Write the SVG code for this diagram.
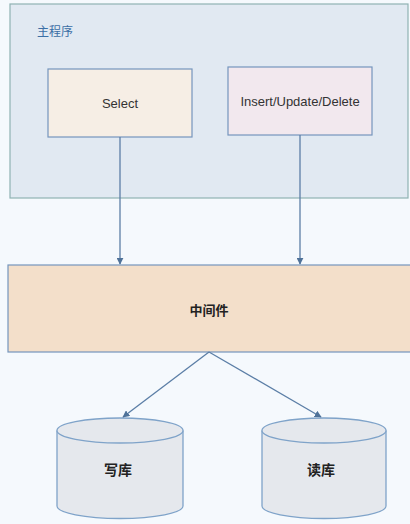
<svg xmlns="http://www.w3.org/2000/svg" width="410" height="524" viewBox="0 0 410 524">
<style>
.box{stroke:#7595bd;stroke-width:1.2}
.lbl{font-family:"Liberation Sans",Arial,sans-serif;font-size:13px;fill:#333;text-anchor:middle;dominant-baseline:central}
.cjk{font-family:"Noto Sans CJK SC","Liberation Sans",sans-serif;font-size:13px;fill:#222;text-anchor:middle;dominant-baseline:central;font-weight:bold}
.edge{stroke:#5b7ea6;stroke-width:1.3;fill:none;marker-end:url(#arr)}
.db{fill:#e5e8ed;stroke:#7fa3c9;stroke-width:1.3}
</style>
<defs>
<marker id="arr" viewBox="0 0 10 10" refX="9" refY="5" markerWidth="7" markerHeight="7" markerUnits="userSpaceOnUse" orient="auto">
<path d="M0,0 L10,5 L0,10 z" fill="#4f7299"/>
</marker>
</defs>
<rect x="0" y="0" width="410" height="524" fill="#f5f9fd"/>
<g id="main">
<rect x="10" y="4" width="398" height="194" fill="#e1e9f2" stroke="#8fb2b3" stroke-width="1.2"/>
<text x="55" y="30" class="cjk" style="font-weight:normal;font-size:12px;fill:#3b6fa6">主程序</text>
</g>
<g id="select">
<rect x="48" y="69" width="144" height="68" fill="#f6eee5" class="box"/>
<text x="120" y="103" class="lbl">Select</text>
</g>
<g id="iud">
<rect x="228" y="67" width="144" height="68" fill="#f2e8ee" class="box"/>
<text x="300" y="101" class="lbl">Insert/Update/Delete</text>
</g>
<g id="middleware">
<rect x="8" y="265" width="410" height="87" fill="#f3dfca" class="box"/>
<text x="209" y="309" class="cjk">中间件</text>
</g>
<g id="writedb">
<path d="M57,430.5 L57,506 A63,12.5 0 0 0 183,506 L183,430.5" class="db"/>
<ellipse cx="120" cy="430.5" rx="63" ry="12.5" class="db"/>
<text x="118" y="469" class="cjk" style="font-size:14px">写库</text>
</g>
<g id="readdb">
<path d="M262,430.5 L262,506 A62,12.5 0 0 0 386,506 L386,430.5" class="db"/>
<ellipse cx="324" cy="430.5" rx="62" ry="12.5" class="db"/>
<text x="321" y="469" class="cjk" style="font-size:14px">读库</text>
</g>
<g id="connectors">
<line x1="120" y1="137" x2="120" y2="264" class="edge"/>
<line x1="300" y1="135" x2="300" y2="264" class="edge"/>
<line x1="209" y1="352" x2="123" y2="417" class="edge"/>
<line x1="209" y1="352" x2="321" y2="417" class="edge"/>
</g>
</svg>
